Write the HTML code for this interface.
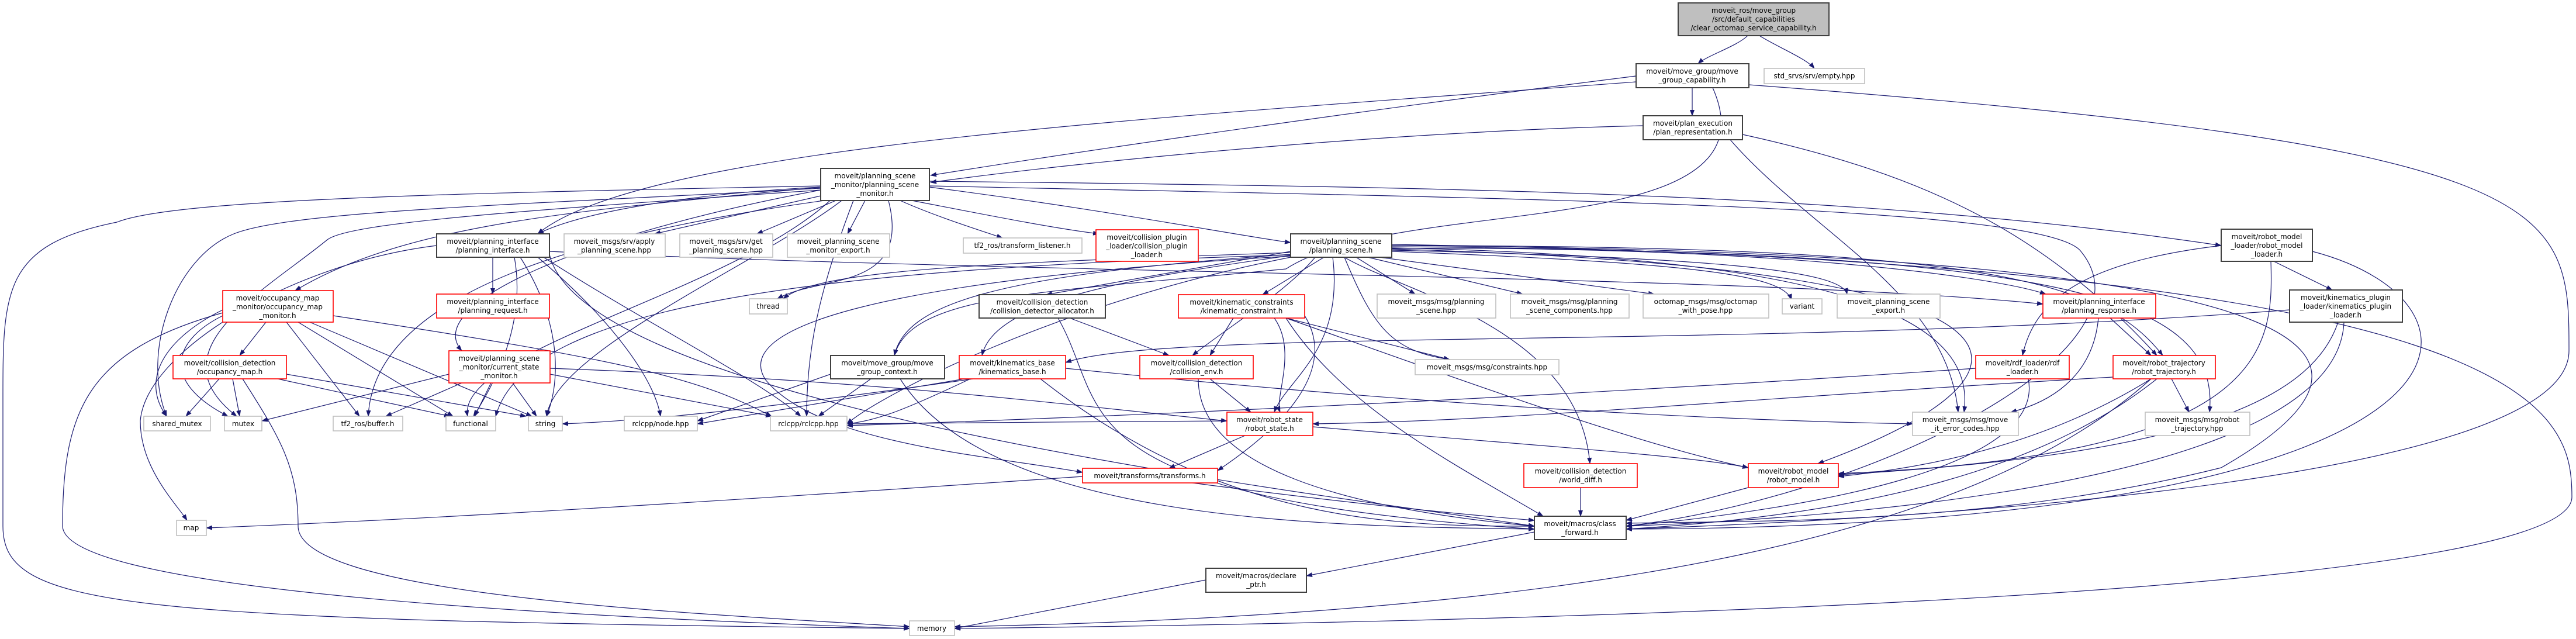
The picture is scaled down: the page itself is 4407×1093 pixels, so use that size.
<!DOCTYPE html>
<html><head><meta charset="utf-8"><style>
html,body{margin:0;padding:0;background:#fff;}
svg{display:block;}
text{font-family:"DejaVu Sans","Liberation Sans",sans-serif;font-size:12px;fill:#000;text-anchor:middle;}
.e{fill:none;stroke:#191970;stroke-width:1.2;marker-end:url(#a);}
.b{fill:#fff;stroke:#404040;stroke-width:2;}
.r{fill:#fff;stroke:#ff0000;stroke-width:1.6;}
.g{fill:#fff;stroke:#bfbfbf;stroke-width:1.6;}
</style></head><body>
<svg width="4407" height="1093" viewBox="0 0 4407 1093" xmlns="http://www.w3.org/2000/svg">
<defs><marker id="a" markerUnits="userSpaceOnUse" markerWidth="11" markerHeight="8" refX="10" refY="4" orient="auto"><path d="M0,0 L11,4 L0,8 z" fill="#191970"/></marker></defs>
<g>
<path class="e" d="M2990,61 C2970,80 2920,95 2905,109"/>
<path class="e" d="M3010,61 C3040,80 3090,100 3104,117"/>
<path class="e" d="M2895,150 L2895,198"/>
<path class="e" d="M2799,130 C2400,180 1900,250 1592,300"/>
<path class="e" d="M2811,215 C2400,225 1900,270 1592,312"/>
<path class="e" d="M2799,140 C2000,200 1100,250 920,400"/>
<path class="e" d="M2981,230 C3300,300 3500,400 3690,608"/>
<path class="e" d="M2960,239 C3100,400 3330,500 3350,705"/>
<path class="e" d="M2992,145 C4390,250 4395,350 4395,600 C4395,800 3500,880 2782,905"/>
<path class="e" d="M2930,150 C3050,420 2400,330 2200,460 C1800,500 1560,500 1530,608"/>
<path class="e" d="M1590,320 C1900,360 2100,400 2208,415"/>
<path class="e" d="M1590,310 C2500,320 3200,330 3800,420"/>
<path class="e" d="M1590,318 C2600,340 3500,350 3560,430 C3700,600 3200,850 2782,900"/>
<path class="e" d="M1560,343 C1700,370 1800,390 1880,400"/>
<path class="e" d="M1540,343 C1600,370 1680,395 1715,407"/>
<path class="e" d="M1480,343 L1450,400"/>
<path class="e" d="M1430,343 L1295,400"/>
<path class="e" d="M1404,335 L1120,400"/>
<path class="e" d="M1404,320 C1200,330 1000,360 920,400"/>
<path class="e" d="M1404,320 C1000,360 700,380 505,497"/>
<path class="e" d="M1404,325 C1000,400 720,520 790,600"/>
<path class="e" d="M1520,343 C1560,500 1400,470 1330,511"/>
<path class="e" d="M1404,318 C800,330 300,340 200,380 C0,420 5,500 5,700 L5,900 C5,1040 200,1060 1556,1075"/>
<path class="e" d="M1404,322 C900,350 500,360 400,400 C300,440 240,600 285,712"/>
<path class="e" d="M1404,325 C900,360 600,380 560,410 C450,500 260,600 405,712"/>
<path class="e" d="M1410,343 C1000,400 640,500 630,712"/>
<path class="e" d="M1420,343 C1250,500 780,600 800,712"/>
<path class="e" d="M1460,343 C1400,500 1380,600 1380,712"/>
<path class="e" d="M1440,343 C1300,450 950,600 935,712"/>
<path class="e" d="M843,440 L843,503"/>
<path class="e" d="M747,420 C500,450 250,600 240,720 C240,800 300,860 320,890"/>
<path class="e" d="M890,440 C960,550 960,650 935,712"/>
<path class="e" d="M880,440 C900,550 850,650 810,712"/>
<path class="e" d="M930,440 C1100,550 1300,650 1370,712"/>
<path class="e" d="M920,440 C1050,550 1120,650 1130,712"/>
<path class="e" d="M940,430 C1800,470 3000,470 3495,520"/>
<path class="e" d="M940,435 C1000,700 2300,850 2625,900"/>
<path class="e" d="M455,551 L410,608"/>
<path class="e" d="M490,551 L615,712"/>
<path class="e" d="M510,551 L775,712"/>
<path class="e" d="M530,551 L910,712"/>
<path class="e" d="M381,540 C300,580 270,650 390,712"/>
<path class="e" d="M381,530 C280,580 240,650 285,712"/>
<path class="e" d="M570,540 C1100,620 1200,650 1320,712"/>
<path class="e" d="M381,535 C150,600 107,700 107,900 C110,1000 800,1050 1556,1075"/>
<path class="e" d="M375,648 L318,712"/>
<path class="e" d="M398,648 L410,712"/>
<path class="e" d="M475,648 L770,712"/>
<path class="e" d="M490,640 L900,712"/>
<path class="e" d="M415,648 C480,750 510,800 510,900 C510,1020 1200,1050 1556,1072"/>
<path class="e" d="M768,640 L448,720"/>
<path class="e" d="M790,655 L660,712"/>
<path class="e" d="M840,655 L812,712"/>
<path class="e" d="M877,655 L918,712"/>
<path class="e" d="M941,630 C1500,650 1800,690 2099,720"/>
<path class="e" d="M941,640 L1320,712"/>
<path class="e" d="M2208,430 L1790,504"/>
<path class="e" d="M2265,440 L2160,504"/>
<path class="e" d="M2320,440 L2421,503"/>
<path class="e" d="M2340,440 L2605,503"/>
<path class="e" d="M2360,440 L2830,503"/>
<path class="e" d="M2381,430 C2900,450 3050,470 3065,513"/>
<path class="e" d="M2381,428 C2900,440 3150,460 3160,503"/>
<path class="e" d="M2381,425 C3000,420 3400,470 3500,503"/>
<path class="e" d="M2381,420 C3400,420 3600,480 3700,608"/>
<path class="e" d="M2381,422 C3500,430 3800,500 3780,705"/>
<path class="e" d="M2381,424 C3200,440 3380,560 3360,705"/>
<path class="e" d="M2381,426 C3600,460 3500,650 3110,793"/>
<path class="e" d="M2381,420 C4000,430 4150,600 3800,800 C3400,900 3000,890 2782,895"/>
<path class="e" d="M2208,435 C1700,470 1550,520 1530,608"/>
<path class="e" d="M2208,437 C1900,480 1700,520 1680,608"/>
<path class="e" d="M2250,440 C2200,500 2100,560 2040,608"/>
<path class="e" d="M2280,440 C2300,600 2200,650 2180,705"/>
<path class="e" d="M2300,440 C2400,500 2700,560 2720,793"/>
<path class="e" d="M2300,440 C2350,560 2380,600 2480,615"/>
<path class="e" d="M2208,438 C1500,480 1250,560 1310,650 C1400,760 1700,780 1852,808"/>
<path class="e" d="M2208,432 C1700,450 1400,460 1340,511"/>
<path class="e" d="M2208,440 C1800,520 1500,680 1449,725"/>
<path class="e" d="M2208,436 C1400,460 900,520 848,712"/>
<path class="e" d="M2381,418 C4350,450 4400,700 4400,850 C4400,1000 3000,1060 1633,1075"/>
<path class="e" d="M1830,544 L2000,608"/>
<path class="e" d="M1810,544 C1900,700 1800,850 2625,905"/>
<path class="e" d="M2110,544 L2070,608"/>
<path class="e" d="M2180,544 C2220,600 2180,680 2190,705"/>
<path class="e" d="M2200,544 L2480,615"/>
<path class="e" d="M2200,544 C2500,650 2800,760 2991,800"/>
<path class="e" d="M2232,540 C2300,650 2150,760 2083,805"/>
<path class="e" d="M2200,544 C2300,700 2500,800 2640,883"/>
<path class="e" d="M2070,648 L2140,705"/>
<path class="e" d="M2050,648 C2050,800 2300,870 2625,900"/>
<path class="e" d="M2130,745 L2000,801"/>
<path class="e" d="M2246,730 C2600,760 2900,780 2991,800"/>
<path class="e" d="M2099,720 C1900,720 1600,725 1449,725"/>
<path class="e" d="M1660,648 C1550,700 1500,720 1449,725"/>
<path class="e" d="M1665,648 C1300,700 1100,720 962,725"/>
<path class="e" d="M1823,630 C2500,700 3000,720 3272,725"/>
<path class="e" d="M1780,648 C2100,900 2400,900 2625,900"/>
<path class="e" d="M1650,648 L1193,725"/>
<path class="e" d="M1490,648 L1400,712"/>
<path class="e" d="M1540,648 C1700,900 2300,900 2625,905"/>
<path class="e" d="M1421,640 L1193,720"/>
<path class="e" d="M1852,815 C1200,860 700,890 353,903"/>
<path class="e" d="M2040,826 C2300,860 2500,880 2625,890"/>
<path class="e" d="M2991,834 L2782,890"/>
<path class="e" d="M2704,834 L2704,883"/>
<path class="e" d="M2625,910 L2235,985"/>
<path class="e" d="M2063,992 L1633,1075"/>
<path class="e" d="M3800,420 C3550,450 3480,520 3460,608"/>
<path class="e" d="M3890,447 L3990,496"/>
<path class="e" d="M3885,447 C3890,600 3880,780 3145,810"/>
<path class="e" d="M3956,430 C4300,520 4300,900 2782,905"/>
<path class="e" d="M3917,530 C3000,600 2000,560 1823,620"/>
<path class="e" d="M4000,551 C3950,700 3700,780 3145,812"/>
<path class="e" d="M4010,551 C4000,800 3300,880 2782,900"/>
<path class="e" d="M3380,630 C2500,690 1700,720 1449,728"/>
<path class="e" d="M3470,648 C3500,800 3100,870 2782,900"/>
<path class="e" d="M3610,544 L3680,608"/>
<path class="e" d="M3590,544 C3580,650 3500,690 3440,705"/>
<path class="e" d="M3715,648 L3745,705"/>
<path class="e" d="M3615,645 C3000,680 2600,720 2246,725"/>
<path class="e" d="M3690,648 C3500,800 3200,880 2782,905"/>
<path class="e" d="M3680,648 C3500,760 3300,800 3145,815"/>
<path class="e" d="M3680,648 C3400,900 2800,1050 1633,1072"/>
</g>
<g>
<rect x="2871" y="5" width="258" height="56" fill="#bfbfbf" stroke="#404040" stroke-width="2"/>
<text x="3000" y="22">moveit_ros/move_group</text><text x="3000" y="37">/src/default_capabilities</text><text x="3000" y="52">/clear_octomap_service_capability.h</text>
<rect class="b" x="2799" y="109" width="193" height="41"/><text x="2895" y="126">moveit/move_group/move</text><text x="2895" y="141">_group_capability.h</text>
<rect class="g" x="3018" y="117" width="172" height="26"/><text x="3104" y="134">std_srvs/srv/empty.hpp</text>
<rect class="b" x="2811" y="198" width="170" height="41"/><text x="2896" y="215">moveit/plan_execution</text><text x="2896" y="230">/plan_representation.h</text>
<rect class="b" x="1404" y="288" width="186" height="55"/><text x="1497" y="305">moveit/planning_scene</text><text x="1497" y="320">_monitor/planning_scene</text><text x="1497" y="335">_monitor.h</text>
<rect class="b" x="747" y="400" width="193" height="40"/><text x="843" y="417">moveit/planning_interface</text><text x="843" y="432">/planning_interface.h</text>
<rect class="g" x="965" y="400" width="173" height="40"/><text x="1051" y="417">moveit_msgs/srv/apply</text><text x="1051" y="432">_planning_scene.hpp</text>
<rect class="g" x="1163" y="400" width="159" height="40"/><text x="1242" y="417">moveit_msgs/srv/get</text><text x="1242" y="432">_planning_scene.hpp</text>
<rect class="g" x="1347" y="400" width="175" height="40"/><text x="1434" y="417">moveit_planning_scene</text><text x="1434" y="432">_monitor_export.h</text>
<rect class="g" x="1648" y="407" width="203" height="26"/><text x="1749" y="424">tf2_ros/transform_listener.h</text>
<rect class="r" x="1875" y="393" width="175" height="54"/><text x="1962" y="410">moveit/collision_plugin</text><text x="1962" y="425">_loader/collision_plugin</text><text x="1962" y="440">_loader.h</text>
<rect class="b" x="2208" y="400" width="173" height="40"/><text x="2294" y="417">moveit/planning_scene</text><text x="2294" y="432">/planning_scene.h</text>
<rect class="b" x="3800" y="392" width="156" height="55"/><text x="3878" y="409">moveit/robot_model</text><text x="3878" y="424">_loader/robot_model</text><text x="3878" y="439">_loader.h</text>
<rect class="r" x="381" y="497" width="189" height="54"/><text x="475" y="514">moveit/occupancy_map</text><text x="475" y="529">_monitor/occupancy_map</text><text x="475" y="544">_monitor.h</text>
<rect class="r" x="747" y="503" width="193" height="41"/><text x="843" y="520">moveit/planning_interface</text><text x="843" y="535">/planning_request.h</text>
<rect class="g" x="1282" y="511" width="65" height="26"/><text x="1314" y="528">thread</text>
<rect class="b" x="1675" y="504" width="216" height="40"/><text x="1783" y="521">moveit/collision_detection</text><text x="1783" y="536">/collision_detector_allocator.h</text>
<rect class="r" x="2016" y="504" width="216" height="40"/><text x="2124" y="521">moveit/kinematic_constraints</text><text x="2124" y="536">/kinematic_constraint.h</text>
<rect class="g" x="2356" y="503" width="203" height="41"/><text x="2457" y="520">moveit_msgs/msg/planning</text><text x="2457" y="535">_scene.hpp</text>
<rect class="g" x="2584" y="503" width="203" height="41"/><text x="2685" y="520">moveit_msgs/msg/planning</text><text x="2685" y="535">_scene_components.hpp</text>
<rect class="g" x="2811" y="503" width="215" height="41"/><text x="2918" y="520">octomap_msgs/msg/octomap</text><text x="2918" y="535">_with_pose.hpp</text>
<rect class="g" x="3049" y="511" width="68" height="26"/><text x="3083" y="528">variant</text>
<rect class="g" x="3143" y="503" width="176" height="41"/><text x="3231" y="520">moveit_planning_scene</text><text x="3231" y="535">_export.h</text>
<rect class="r" x="3495" y="503" width="193" height="41"/><text x="3591" y="520">moveit/planning_interface</text><text x="3591" y="535">/planning_response.h</text>
<rect class="b" x="3917" y="496" width="193" height="55"/><text x="4013" y="513">moveit/kinematics_plugin</text><text x="4013" y="528">_loader/kinematics_plugin</text><text x="4013" y="543">_loader.h</text>
<rect class="r" x="296" y="608" width="194" height="40"/><text x="393" y="625">moveit/collision_detection</text><text x="393" y="640">/occupancy_map.h</text>
<rect class="r" x="768" y="600" width="173" height="55"/><text x="854" y="617">moveit/planning_scene</text><text x="854" y="632">_monitor/current_state</text><text x="854" y="647">_monitor.h</text>
<rect class="b" x="1421" y="608" width="195" height="40"/><text x="1518" y="625">moveit/move_group/move</text><text x="1518" y="640">_group_context.h</text>
<rect class="r" x="1641" y="608" width="182" height="40"/><text x="1732" y="625">moveit/kinematics_base</text><text x="1732" y="640">/kinematics_base.h</text>
<rect class="r" x="1950" y="608" width="194" height="40"/><text x="2047" y="625">moveit/collision_detection</text><text x="2047" y="640">/collision_env.h</text>
<rect class="g" x="2421" y="615" width="246" height="26"/><text x="2544" y="632">moveit_msgs/msg/constraints.hpp</text>
<rect class="r" x="3380" y="608" width="160" height="40"/><text x="3460" y="625">moveit/rdf_loader/rdf</text><text x="3460" y="640">_loader.h</text>
<rect class="r" x="3615" y="608" width="175" height="40"/><text x="3702" y="625">moveit/robot_trajectory</text><text x="3702" y="640">/robot_trajectory.h</text>
<rect class="g" x="246" y="712" width="114" height="25"/><text x="303" y="729">shared_mutex</text>
<rect class="g" x="384" y="712" width="64" height="25"/><text x="416" y="729">mutex</text>
<rect class="g" x="570" y="712" width="119" height="25"/><text x="629" y="729">tf2_ros/buffer.h</text>
<rect class="g" x="763" y="712" width="85" height="25"/><text x="805" y="729">functional</text>
<rect class="g" x="904" y="712" width="58" height="25"/><text x="933" y="729">string</text>
<rect class="g" x="1068" y="712" width="125" height="25"/><text x="1130" y="729">rclcpp/node.hpp</text>
<rect class="g" x="1318" y="712" width="131" height="25"/><text x="1383" y="729">rclcpp/rclcpp.hpp</text>
<rect class="r" x="2099" y="705" width="147" height="40"/><text x="2172" y="722">moveit/robot_state</text><text x="2172" y="737">/robot_state.h</text>
<rect class="g" x="3272" y="705" width="181" height="40"/><text x="3362" y="722">moveit_msgs/msg/move</text><text x="3362" y="737">_it_error_codes.hpp</text>
<rect class="g" x="3670" y="705" width="179" height="40"/><text x="3759" y="722">moveit_msgs/msg/robot</text><text x="3759" y="737">_trajectory.hpp</text>
<rect class="r" x="1852" y="801" width="231" height="25"/><text x="1967" y="818">moveit/transforms/transforms.h</text>
<rect class="r" x="2607" y="793" width="194" height="41"/><text x="2704" y="810">moveit/collision_detection</text><text x="2704" y="825">/world_diff.h</text>
<rect class="r" x="2991" y="793" width="154" height="41"/><text x="3068" y="810">moveit/robot_model</text><text x="3068" y="825">/robot_model.h</text>
<rect class="g" x="302" y="890" width="51" height="26"/><text x="327" y="907">map</text>
<rect class="b" x="2625" y="883" width="157" height="40"/><text x="2703" y="900">moveit/macros/class</text><text x="2703" y="915">_forward.h</text>
<rect class="b" x="2063" y="972" width="172" height="41"/><text x="2149" y="989">moveit/macros/declare</text><text x="2149" y="1004">_ptr.h</text>
<rect class="g" x="1556" y="1062" width="77" height="25"/><text x="1594" y="1079">memory</text>
</g>
</svg>
</body></html>
